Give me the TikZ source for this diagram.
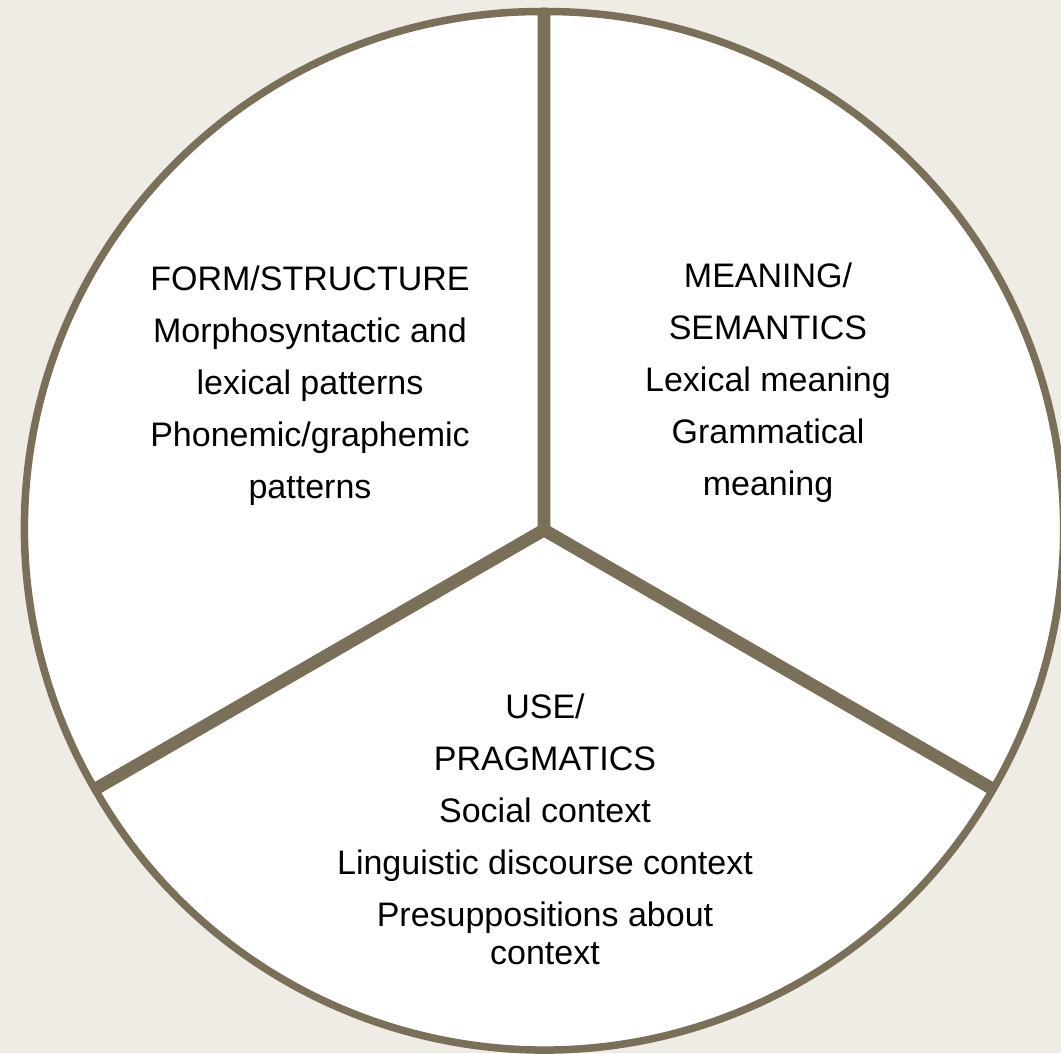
\documentclass[tikz,border=0pt]{standalone}
\usepackage{fontspec}
\setmainfont{Liberation Sans}
\definecolor{rim}{RGB}{122,111,88}
\definecolor{paper}{RGB}{238,236,228}
\tikzset{
  slice/.style={draw=rim, fill=white, line width=7.5pt, line join=miter},
  label/.style={align=center, inner sep=0pt, font=\fontsize{34}{52}\selectfont}
}
\begin{document}
\begin{tikzpicture}[x=1pt, y=1pt]
      \fill[paper] (-544,-523) rectangle (517,530);
      \useasboundingbox (-544,-523) rectangle (517,530);

      % slices
      \draw[slice, shift={(-2.6,1.5)}] (0,0) -- (90:517pt) arc[start angle=90, end angle=210, radius=517pt] -- cycle;
      \draw[slice, shift={(2.6,1.5)}] (0,0) -- (-30:517pt) arc[start angle=-30, end angle=90, radius=517pt] -- cycle;
      \draw[slice, shift={(0,-3)}] (0,0) -- (210:517pt) arc[start angle=210, end angle=330, radius=517pt] -- cycle;

      % texts
      \node[label] (form) at (-234,144) {FORM/STRUCTURE\\Morphosyntactic and\\lexical patterns\\Phonemic/graphemic\\patterns};
      \node[label] (meaning) at (224,147) {MEANING/\\SEMANTICS\\Lexical meaning\\Grammatical\\meaning};
      \node[label] (use) at (1,-299) {USE/\\PRAGMATICS\\Social context\\Linguistic discourse context\\Presuppositions about\\[-14pt]context};
    \end{tikzpicture}
\end{document}
